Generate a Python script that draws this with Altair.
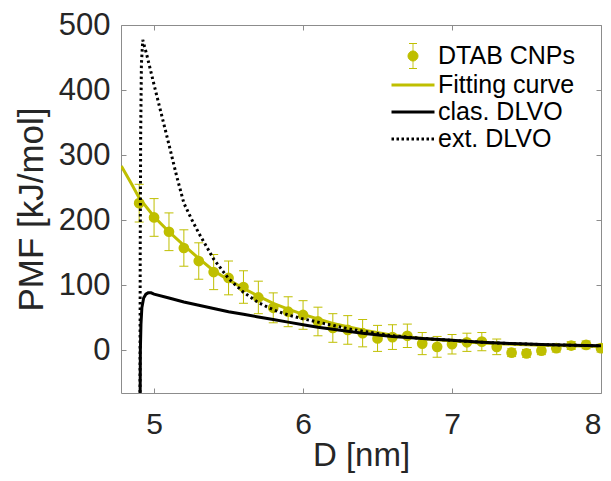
import altair as alt
import pandas as pd

YEL = "#bfbf00"
GRAY = "#8c8c8c"
TXT = "#262626"
FONT = "Liberation Sans"

SERIES = ["DTAB CNPs", "Fitting curve", "clas. DLVO", "ext. DLVO"]

D_PTS = [4.9, 5.0, 5.1, 5.2, 5.3, 5.4, 5.5, 5.6, 5.7, 5.8, 5.9, 6.0, 6.1, 6.2, 6.3, 6.4,
         6.5, 6.6, 6.7, 6.8, 6.9, 7.0, 7.1, 7.2, 7.3, 7.4, 7.5, 7.6, 7.7, 7.8, 7.9, 8.0]
PMF_PTS = [226, 204, 182, 157, 137, 120, 111, 97, 81, 65, 59, 54, 44, 34, 31, 26,
           18, 20, 22, 10, 5, 9, 12, 13, 5, -4, -5, -1, 3, 7, 8, 3]
ERR_PTS = [29, 29, 29, 28, 28, 27, 26, 25, 25, 23, 23, 22, 22, 22, 22, 21,
           20, 19, 18, 17, 16, 15, 14, 14, 12, 6, 6, 6, 6, 6, 6, 6]

FIT_D = [4.78, 4.85, 4.9, 5.0, 5.1, 5.2, 5.3, 5.4, 5.5, 5.6, 5.7, 5.8, 5.9, 6.0,
         6.2, 6.4, 6.6, 6.8, 7.0, 7.2, 7.4, 7.6, 7.8, 8.0]
FIT_V = [283, 255, 234, 205, 182, 161, 141, 122, 108, 95, 83, 72, 63, 55,
         41, 31, 23, 18, 14, 11, 9, 7.5, 6.5, 5.5]

CLAS_D = [4.905, 4.908, 4.912, 4.918, 4.93, 4.945, 4.96, 4.98, 5.0, 5.1, 5.2, 5.3,
          5.4, 5.5, 5.6, 5.7, 5.8, 5.9, 6.0, 6.1, 6.2, 6.4, 6.6, 6.8, 7.0, 7.2,
          7.4, 7.6, 7.8, 8.0]
CLAS_V = [-150, 0, 40, 65, 80, 86, 88, 88, 86, 80, 74, 69,
          64, 59, 55, 51, 47, 43, 39, 35, 32, 26, 21, 18, 15, 12,
          10, 8.5, 7.5, 6.5]

EXT_D = [4.905, 4.907, 4.91, 4.915, 4.924, 4.95, 5.0, 5.05, 5.1, 5.15, 5.2, 5.25,
         5.3, 5.4, 5.5, 5.6, 5.7, 5.8, 5.9, 6.0, 6.1, 6.2, 6.3, 6.4, 6.6, 6.8,
         7.0, 7.2, 7.4, 7.6, 7.8, 8.0]
EXT_V = [-150, 150, 330, 440, 477, 455, 408, 362, 316, 269, 226, 202,
         180, 140, 110, 89, 73, 62, 54, 48, 43, 38, 33, 29, 22, 18,
         15, 12, 10, 8.5, 7.5, 6.5]

X_TICKS = [5, 6, 7, 8]
Y_TICKS = [0, 100, 200, 300, 400, 500]

pts = pd.DataFrame({
    "D": D_PTS,
    "PMF": PMF_PTS,
    "lo": [p - e for p, e in zip(PMF_PTS, ERR_PTS)],
    "hi": [p + e for p, e in zip(PMF_PTS, ERR_PTS)],
})
fit = pd.DataFrame({"D": FIT_D, "PMF": FIT_V})
clas = pd.DataFrame({"D": CLAS_D, "PMF": CLAS_V})
ext = pd.DataFrame({"D": EXT_D, "PMF": EXT_V})
leg = pd.DataFrame({"series": SERIES})

xs = alt.Scale(domain=[4.778, 8], nice=False, zero=False)
ys = alt.Scale(domain=[-66, 500], nice=False, zero=False)

ax_bottom = alt.Axis(orient="bottom", values=X_TICKS, format="d", title="D [nm]", grid=False,
                     domain=False, ticks=False, labelFontSize=30, titleFontSize=33,
                     labelPadding=16, titleY=72, titleBaseline="alphabetic",
                     labelFont=FONT, titleFont=FONT,
                     labelColor=TXT, titleColor=TXT, titleFontWeight="normal")
ax_left = alt.Axis(orient="left", values=Y_TICKS, format="d", title="PMF [kJ/mol]", grid=False,
                   domain=False, ticks=False, labelFontSize=31, titleFontSize=35,
                   labelPadding=11, titlePadding=9, labelFont=FONT, titleFont=FONT,
                   labelColor=TXT, titleColor=TXT, titleFontWeight="normal")


def tick_axis(orient, values):
    return alt.Axis(orient=orient, values=values, labels=False, title=None, grid=False,
                    domain=False, tickSize=5, tickColor=GRAY, tickWidth=1, offset=-5)


ebar = alt.Chart(pts).mark_rule(color=YEL, strokeWidth=1, opacity=1).encode(
    x=alt.X("D:Q", scale=xs, axis=None),
    y=alt.Y("lo:Q", scale=ys, axis=None),
    y2="hi:Q",
)
cap_lo = alt.Chart(pts).mark_tick(color=YEL, orient="horizontal", size=9, thickness=1, opacity=1).encode(
    x=alt.X("D:Q", scale=xs, axis=None),
    y=alt.Y("lo:Q", scale=ys, axis=None),
)
cap_hi = alt.Chart(pts).mark_tick(color=YEL, orient="horizontal", size=9, thickness=1, opacity=1).encode(
    x=alt.X("D:Q", scale=xs, axis=tick_axis("bottom", X_TICKS)),
    y=alt.Y("hi:Q", scale=ys, axis=tick_axis("left", Y_TICKS)),
)
points = alt.Chart(pts).mark_circle(color=YEL, size=115, opacity=1).encode(
    x=alt.X("D:Q", scale=xs, axis=ax_bottom),
    y=alt.Y("PMF:Q", scale=ys, axis=ax_left),
)
fit_line = alt.Chart(fit).mark_line(color=YEL, strokeWidth=3, clip=True).encode(
    x=alt.X("D:Q", scale=xs, axis=tick_axis("top", X_TICKS)),
    y=alt.Y("PMF:Q", scale=ys, axis=tick_axis("right", Y_TICKS)),
)
clas_line = alt.Chart(clas).mark_line(color="black", strokeWidth=3, clip=True).encode(
    x=alt.X("D:Q", scale=xs, axis=None),
    y=alt.Y("PMF:Q", scale=ys, axis=None),
)
ext_line = alt.Chart(ext).mark_line(color="black", strokeWidth=3, strokeDash=[2.5, 3], clip=True).encode(
    x=alt.X("D:Q", scale=xs, axis=None),
    y=alt.Y("PMF:Q", scale=ys, axis=None),
)

EB = ("M0,-1L0,1M-0.32,-1L0.32,-1M-0.32,1L0.32,1"
      "M-0.4,0A0.4,0.4 0 1,0 0.4,0A0.4,0.4 0 1,0 -0.4,0Z")
LN = "M-1.72,0L1.72,0"
legend = alt.Legend(title=None, orient="none", legendX=278, legendY=18, padding=0,
                    labelFontSize=25, labelFont=FONT, labelColor="black", labelOffset=11,
                    symbolSize=625, rowPadding=0)
legend_layer = alt.Chart(leg).mark_point(opacity=1).encode(
    fill=alt.Fill("series:N", scale=alt.Scale(domain=SERIES, range=[YEL, YEL, "black", "black"]), legend=legend),
    stroke=alt.Stroke("series:N", scale=alt.Scale(domain=SERIES, range=[YEL, YEL, "black", "black"]), legend=legend),
    shape=alt.Shape("series:N", scale=alt.Scale(domain=SERIES, range=[EB, LN, LN, LN]), legend=legend),
    strokeDash=alt.StrokeDash("series:N", scale=alt.Scale(domain=SERIES, range=[[1, 0], [1, 0], [1, 0], [2.5, 2.5]]), legend=legend),
    strokeWidth=alt.StrokeWidth("series:N", scale=alt.Scale(type="ordinal", domain=SERIES, range=[1, 3, 3, 3]), legend=legend),
).transform_filter("false")

chart = alt.layer(ebar, cap_lo, cap_hi, points, fit_line, clas_line, ext_line, legend_layer).resolve_axis(
    x="independent", y="independent"
).properties(
    width=480, height=368,
    autosize=alt.AutoSizeParams(type="none"),
    padding={"left": 113, "top": 17, "right": 2, "bottom": 80},
    background="white",
).configure_view(stroke=GRAY, strokeWidth=1)

chart.save("out.html", embed_options={"renderer": "svg", "actions": False})
